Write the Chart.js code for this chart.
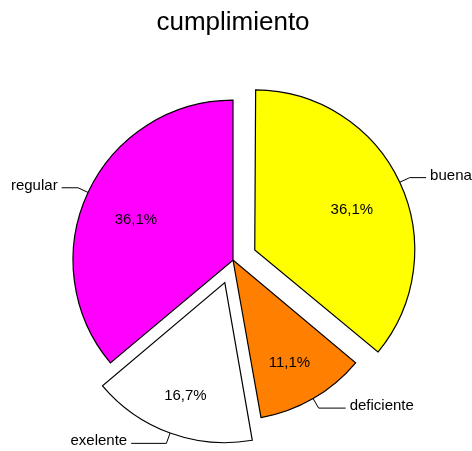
<!DOCTYPE html>
<html>
<head>
<meta charset="utf-8">
<script src="https://cdn.jsdelivr.net/npm/chart.js@4.4.0/dist/chart.umd.min.js"></script>
<style>
  html, body { margin: 0; padding: 0; background: #fff; }
</style>
</head>
<body>
<canvas id="myChart" width="472" height="451"></canvas>
<script>
const titulo = 'cumplimiento';
const categorias = ['buena', 'deficiente', 'exelente', 'regular'];
const porcentajes = [36.1, 11.1, 16.7, 36.1];
const colores = ['#ffff00', '#ff8000', '#ffffff', '#ff00ff'];
const separadas = ['buena', 'exelente'];

const FONT = '"Liberation Sans", Arial, sans-serif';
const SEPARACION = 24; // px que se desplaza la porcion separada

const formato = v => v.toFixed(1).replace('.', ',') + '%';

const etiquetas = {
	id: 'etiquetas',
	afterUpdate(chart) {
		// chart.js agranda un poco las porciones con offset, se corrige
		chart.getDatasetMeta(0).data.forEach(arc => {
			const off = (arc.options.offset || 0) / 4;
			const fix = 1 - Math.sin(Math.min(Math.PI, arc.circumference));
			arc.outerRadius -= off * fix;
		});
	},
	afterDatasetsDraw(chart) {
		const ctx = chart.ctx;
		const meta = chart.getDatasetMeta(0);
		const R = meta.controller.outerRadius;
		ctx.save();
		ctx.font = '15px ' + FONT;
		ctx.fillStyle = '#000';
		ctx.strokeStyle = '#000';
		ctx.lineWidth = 1;
		meta.data.forEach((arc, i) => {
			const mid = (arc.startAngle + arc.endAngle) / 2;
			const cos = Math.cos(mid);
			const sin = Math.sin(mid);
			const d = (arc.options.offset || 0) / 4;
			const cx = arc.x + cos * d;
			const cy = arc.y + sin * d;

			// porcentaje dentro de la porcion
			const txt = formato(porcentajes[i]);
			const w = ctx.measureText(txt).width;
			const ext = Math.abs(cos) * w / 2 + Math.abs(sin) * 7.5;
			const r = R * 0.81 - ext;
			ctx.textAlign = 'center';
			ctx.textBaseline = 'middle';
			ctx.fillText(txt, cx + cos * r, cy + sin * r + 5);

			// linea guia y nombre de la categoria
			const x0 = cx + cos * R, y0 = cy + sin * R;
			const x1 = cx + cos * (R + 11), y1 = cy + sin * (R + 11);
			const lado = cos >= 0 ? 1 : -1;
			const dy = y1 - cy;
			let x2 = cx + lado * Math.sqrt(Math.max((R + 26) ** 2 - dy * dy, 0));
			if ((x2 - x1) * lado < 6) x2 = x1 + lado * 6;
			ctx.beginPath();
			ctx.moveTo(x0, y0);
			ctx.lineTo(x1, y1);
			ctx.lineTo(x2, y1);
			ctx.stroke();
			ctx.textAlign = lado > 0 ? 'left' : 'right';
			ctx.textBaseline = 'alphabetic';
			ctx.fillText(categorias[i], x2 + lado * 4, y1 + 2);
		});
		ctx.restore();
	}
};

const ctx = document.getElementById('myChart').getContext('2d');

const myChart = new Chart(ctx, {
	type: 'pie',
	data: {
		labels: categorias,
		datasets: [{
			data: porcentajes,
			backgroundColor: colores,
			borderColor: '#000',
			borderWidth: 1.2,
			borderJoinStyle: 'miter',
			offset: categorias.map(c => separadas.includes(c) ? SEPARACION * 4 : 0)
		}]
	},
	options: {
		responsive: false,
		animation: false,
		events: [],
		radius: 160,
		layout: { padding: { left: 0, right: 6, top: 0, bottom: 0 } },
		plugins: {
			legend: { display: false },
			tooltip: { enabled: false },
			title: {
				display: true,
				text: titulo,
				color: '#000',
				font: { family: FONT, size: 26, weight: 'normal' },
				padding: { top: 7, bottom: 31 }
			}
		}
	},
	plugins: [etiquetas]
});
</script>
</body>
</html>
